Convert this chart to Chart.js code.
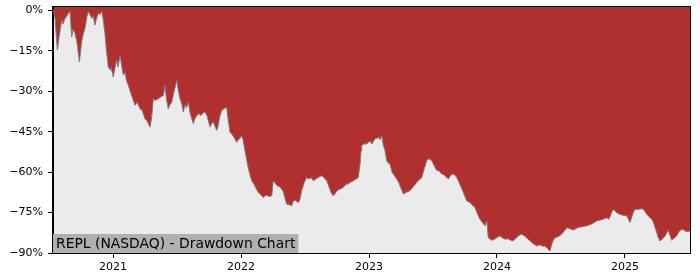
<!DOCTYPE html>
<html lang="en">
<head>
<meta charset="UTF-8">
<title>REPL Drawdown Chart</title>
<style>
  html, body { margin: 0; padding: 0; background: #fff; }
  #chart { display: block; }
</style>
</head>
<body>
<canvas id="chart" width="700" height="280"></canvas>
<script src="https://cdn.jsdelivr.net/npm/chart.js"></script>
<script>
// dates as decimal years, drawdown in %
const dates = [
  2020.535, 2020.547, 2020.565, 2020.578, 2020.599, 2020.609, 2020.625, 2020.641, 2020.651, 2020.664,
  2020.677, 2020.688, 2020.703, 2020.719, 2020.737, 2020.755, 2020.766, 2020.781, 2020.797, 2020.807,
  2020.820, 2020.834, 2020.844, 2020.859, 2020.871, 2020.885, 2020.898, 2020.912, 2020.922, 2020.938,
  2020.949, 2020.963, 2020.977, 2020.984, 2021.002, 2021.016, 2021.029, 2021.039, 2021.055, 2021.066,
  2021.080, 2021.094, 2021.105, 2021.120, 2021.141, 2021.156, 2021.172, 2021.188, 2021.211, 2021.227,
  2021.250, 2021.266, 2021.289, 2021.301, 2021.315, 2021.328, 2021.344, 2021.367, 2021.393, 2021.406,
  2021.418, 2021.432, 2021.445, 2021.459, 2021.477, 2021.498, 2021.508, 2021.523, 2021.539, 2021.549,
  2021.563, 2021.574, 2021.588, 2021.602, 2021.627, 2021.641, 2021.666, 2021.688, 2021.703, 2021.719,
  2021.734, 2021.758, 2021.770, 2021.784, 2021.797, 2021.810, 2021.820, 2021.836, 2021.849, 2021.867,
  2021.888, 2021.898, 2021.914, 2021.930, 2021.945, 2021.966, 2021.977, 2021.992, 2022.005, 2022.016,
  2022.031, 2022.045, 2022.055, 2022.070, 2022.084, 2022.102, 2022.117, 2022.135, 2022.156, 2022.174,
  2022.195, 2022.219, 2022.240, 2022.252, 2022.266, 2022.281, 2022.305, 2022.328, 2022.357, 2022.375,
  2022.396, 2022.406, 2022.422, 2022.438, 2022.448, 2022.461, 2022.474, 2022.492, 2022.513, 2022.531,
  2022.547, 2022.565, 2022.586, 2022.602, 2022.630, 2022.648, 2022.670, 2022.688, 2022.703, 2022.721,
  2022.742, 2022.758, 2022.773, 2022.799, 2022.820, 2022.838, 2022.852, 2022.867, 2022.891, 2022.916,
  2022.930, 2022.938, 2022.943, 2022.961, 2022.982, 2022.995, 2023.008, 2023.023, 2023.047, 2023.060,
  2023.073, 2023.086, 2023.099, 2023.112, 2023.125, 2023.138, 2023.148, 2023.164, 2023.180, 2023.190,
  2023.216, 2023.234, 2023.250, 2023.268, 2023.289, 2023.320, 2023.344, 2023.373, 2023.391, 2023.412,
  2023.430, 2023.451, 2023.469, 2023.490, 2023.508, 2023.529, 2023.547, 2023.568, 2023.586, 2023.607,
  2023.620, 2023.641, 2023.659, 2023.680, 2023.698, 2023.719, 2023.737, 2023.763, 2023.789, 2023.813,
  2023.828, 2023.852, 2023.867, 2023.883, 2023.906, 2023.920, 2023.932, 2023.959, 2023.984, 2024.008,
  2024.023, 2024.047, 2024.063, 2024.086, 2024.109, 2024.127, 2024.148, 2024.172, 2024.193, 2024.211,
  2024.234, 2024.258, 2024.281, 2024.310, 2024.336, 2024.359, 2024.375, 2024.398, 2024.414, 2024.427,
  2024.438, 2024.453, 2024.477, 2024.506, 2024.523, 2024.545, 2024.570, 2024.594, 2024.609, 2024.633,
  2024.664, 2024.701, 2024.727, 2024.750, 2024.779, 2024.805, 2024.828, 2024.857, 2024.875, 2024.896,
  2024.909, 2024.930, 2024.948, 2024.961, 2024.984, 2025.013, 2025.023, 2025.039, 2025.051, 2025.065,
  2025.078, 2025.104, 2025.130, 2025.143, 2025.170, 2025.188, 2025.209, 2025.221, 2025.242, 2025.258,
  2025.273, 2025.289, 2025.313, 2025.338, 2025.352, 2025.365, 2025.383, 2025.404, 2025.422, 2025.443,
  2025.461, 2025.477, 2025.495, 2025.508
];
const drawdown = [
  0, -3, -14.7, -10, -3.5, -5, -3, -2, -1, -0.4,
  -9.8, -7, -8.5, -12, -19, -11.6, -9, -6.6, -2, -0.4,
  -1.5, -2.9, -2, -5.4, -3, -1, -1.5, -0.2, -3, -9,
  -15, -21, -22, -21, -24.7, -21, -18.4, -21, -16.6, -20,
  -24, -23, -26, -27.8, -31, -33, -35.2, -34, -36.5, -37,
  -40.2, -41, -43.3, -40, -32.7, -33.4, -33, -32.3, -31.5, -27.8,
  -33, -36.5, -35, -34, -30, -25.9, -29, -32.7, -35, -37.7,
  -35, -36, -34, -38, -42, -40, -38.3, -39, -38, -37.7,
  -39, -43.3, -42, -41.4, -43, -44.5, -43, -39, -37.1, -36.5,
  -35.9, -40, -45.2, -46, -47, -48.9, -48, -47.5, -46.4, -48,
  -52, -55.7, -58, -61, -63.2, -64.5, -66, -67.5, -68.5, -69.4,
  -68.5, -69, -68.8, -63.2, -64, -65, -65.5, -67, -71.9, -72,
  -72.5, -71, -70.3, -71, -71.3, -70, -66.9, -64, -62, -62.5,
  -62, -63.2, -62.5, -62, -61.3, -62, -63.2, -65.5, -67.5, -68.8,
  -67.5, -66.5, -66.3, -65.7, -64.5, -64.4, -63.8, -63.5, -62.8, -62,
  -57, -52, -50.1, -49.5, -49.5, -48.9, -48.5, -49.5, -47.6, -47.5,
  -47, -48, -46.4, -50, -52, -55.7, -56.5, -57, -60, -60.7,
  -62.5, -64, -66, -68.1, -67.5, -66.9, -65.5, -63.8, -63, -62,
  -59, -55.7, -55, -55.7, -57.5, -59.4, -59.5, -60.7, -61, -62,
  -62.5, -61, -60.7, -61.5, -63.2, -65.5, -67.5, -70.6, -71.3, -72.5,
  -73.1, -76, -77.5, -78.5, -79.9, -78.1, -84.3, -85.3, -84.8, -84,
  -83.7, -84.5, -84.9, -84.7, -85.3, -85.5, -84.5, -83.5, -83, -83.5,
  -84.5, -85.5, -86.5, -87.4, -87, -87.5, -87.4, -88.5, -89.3, -86.8,
  -85.5, -84.3, -84, -83, -82, -80.6, -81, -81.5, -81.2, -80.5,
  -80.3, -79.9, -79.5, -79, -78.1, -77.8, -77.5, -76.9, -77.5, -75,
  -73.8, -74.8, -75.4, -75.6, -76, -76.2, -77, -78.7, -77, -75,
  -73.8, -73.8, -73.6, -73.8, -75.6, -76.5, -77.5, -78.5, -81.5, -84,
  -85.5, -85, -83.7, -81.6, -83.5, -85.3, -84.5, -83.7, -82, -81.2,
  -81.5, -82, -82, -81.8
];
const yearTicks = [2021, 2022, 2023, 2024, 2025];
const pctTicks = [-90, -75, -60, -45, -30, -15, 0];
const chartLabel = 'REPL (NASDAQ) - Drawdown Chart';

const FONT = 'DejaVu Sans';

// light grey plot background
const plotBg = {
  id: 'plotBg',
  beforeDraw(chart) {
    const { ctx, chartArea: a } = chart;
    ctx.save();
    ctx.fillStyle = '#ebebeb';
    ctx.fillRect(a.left, a.top, a.right - a.left, a.bottom - a.top);
    ctx.restore();
  }
};

// grey box with the title in the lower left corner
const tag = {
  id: 'tag',
  afterDatasetsDraw(chart) {
    const { ctx, chartArea: a } = chart;
    ctx.save();
    ctx.font = '13.9px "' + FONT + '"';
    const w = ctx.measureText(chartLabel).width;
    ctx.fillStyle = '#b0b0b0';
    ctx.fillRect(a.left, a.bottom - 19, w + 6, 19);
    ctx.fillStyle = '#000';
    ctx.textBaseline = 'alphabetic';
    ctx.fillText(chartLabel, a.left + 3, a.bottom - 5);
    ctx.restore();
  }
};

// black frame round the plot
const frame = {
  id: 'frame',
  afterDraw(chart) {
    const { ctx, chartArea: a } = chart;
    ctx.save();
    ctx.strokeStyle = '#000';
    ctx.lineWidth = 1;
    ctx.strokeRect(a.left - 0.5, a.top - 0.5, a.right - a.left + 1, a.bottom - a.top + 1);
    ctx.restore();
  }
};

new Chart(document.getElementById('chart'), {
  type: 'line',
  data: {
    datasets: [{
      data: dates.map((d, i) => ({ x: d, y: drawdown[i] })),
      fill: 'end',
      backgroundColor: '#b03030',
      borderColor: '#7d7d7d',
      borderWidth: 1,
      pointRadius: 0,
      tension: 0
    }]
  },
  options: {
    responsive: false,
    animation: false,
    layout: { autoPadding: false, padding: { top: 7, right: 10, left: 0, bottom: 0 } },
    plugins: { legend: { display: false }, tooltip: { enabled: false } },
    scales: {
      x: {
        type: 'linear',
        min: 2020.531,
        max: 2025.508,
        afterBuildTicks: s => { s.ticks = yearTicks.map(v => ({ value: v })); },
        afterFit: s => { s.height = 27; s.paddingLeft = 0; s.paddingRight = 0; },
        grid: { drawOnChartArea: false, color: '#000', tickLength: 5 },
        border: { display: true, color: '#000' },
        ticks: {
          font: { family: FONT, size: 11 }, color: '#000', padding: 3,
          autoSkip: false, maxRotation: 0,
          callback: v => String(v)
        }
      },
      y: {
        min: -90,
        max: 1.3,
        afterBuildTicks: s => { s.ticks = pctTicks.map(v => ({ value: v })); },
        afterFit: s => { s.width = 53; s.paddingTop = 0; s.paddingBottom = 0; },
        grid: { drawOnChartArea: false, color: '#000', tickLength: 5 },
        border: { display: true, color: '#000' },
        ticks: {
          font: { family: FONT, size: 11 }, color: '#000', padding: 5,
          callback: v => (v < 0 ? '\u2212' : '') + Math.abs(v) + '%'
        }
      }
    }
  },
  plugins: [plotBg, tag, frame]
});
</script>
</body>
</html>
